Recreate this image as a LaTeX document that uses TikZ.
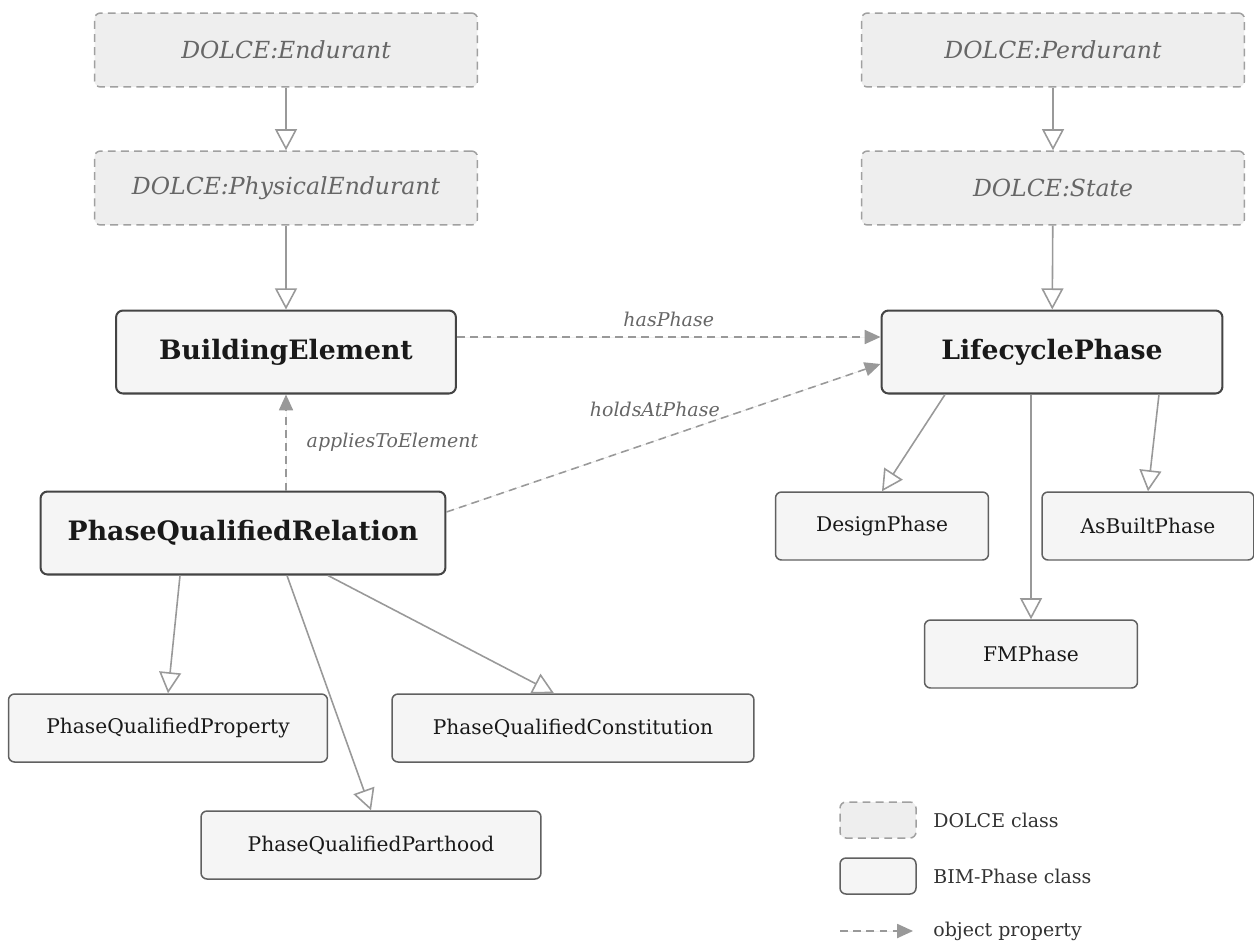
\documentclass[tikz,border=0pt]{standalone}
\usepackage{fontspec}
\setmainfont{DejaVu Serif}
\usepackage{tikz}
\usetikzlibrary{arrows.meta, positioning, calc}
\definecolor{dolcefill}{HTML}{EEEEEE}
\definecolor{dolceline}{HTML}{A0A0A0}
\definecolor{dolcetext}{HTML}{666666}
\definecolor{bimfill}{HTML}{F5F5F5}
\definecolor{bimline}{HTML}{444444}
\definecolor{edgegray}{HTML}{999999}
\tikzset{
  dolce/.style={rectangle, rounded corners=0.12cm, minimum width=7.66cm,
    minimum height=1.48cm, draw=dolceline, fill=dolcefill, dashed,
    dash pattern=on 4.5pt off 3pt, line width=0.85pt, text=dolcetext,
    font=\fontsize{13.4}{15}\selectfont\itshape},
  bimmain/.style={rectangle, rounded corners=0.14cm, minimum height=1.66cm,
    draw=bimline, fill=bimfill, line width=1.15pt, text=black!90,
    font=\fontsize{15.2}{17}\selectfont\bfseries},
  bimsub/.style={rectangle, rounded corners=0.12cm, minimum width=4.26cm,
    minimum height=1.36cm, draw=bimline!85, fill=bimfill, line width=0.85pt,
    text=black!90, font=\fontsize{11.5}{13}\selectfont},
  gen/.style={-{Triangle[open, length=12pt, width=12.5pt]}, draw=edgegray,
    line width=0.9pt},
  objprop/.style={-{Triangle[length=9pt, width=8pt]}, draw=edgegray,
    fill=edgegray, line width=0.9pt, dash pattern=on 4.5pt off 3pt},
  proplabel/.style={text=dolcetext, font=\fontsize{10.8}{12}\selectfont\itshape},
  legendtext/.style={anchor=west, inner sep=0pt, text=black!80,
    font=\fontsize{10.8}{12}\selectfont}
}
\begin{document}
\begin{tikzpicture}[x=0.02cm, y=-0.02cm]
\useasboundingbox (0,0) rectangle (1254,943);
% DOLCE upper level
\node (end)  [dolce] at (286,50)   {DOLCE:Endurant};
\node (pend) [dolce] at (286,188)  {DOLCE:PhysicalEndurant};
\node (perd) [dolce] at (1053,50)  {DOLCE:Perdurant};
\node (st)   [dolce] at (1053,188) {DOLCE:State};
% BIM-Phase core
\node (be)  [bimmain, minimum width=6.8cm]  at (286,352)  {BuildingElement};
\node (lp)  [bimmain, minimum width=6.82cm] at (1052,352) {LifecyclePhase};
\node (pqr) [bimmain, minimum width=8.1cm]  at (243,533)  {PhaseQualifiedRelation};
% phases
\node (dp) [bimsub]                       at (882,526)  {DesignPhase};
\node (ab) [bimsub, minimum width=4.24cm] at (1148,526) {AsBuiltPhase};
\node (fm) [bimsub]                       at (1031,654) {FMPhase};
% relation kinds
\node (pqp) [bimsub, minimum width=6.38cm] at (168,728) {PhaseQualifiedProperty};
\node (pqc) [bimsub, minimum width=7.24cm] at (573,728) {PhaseQualifiedConstitution};
\node (pqh) [bimsub, minimum width=6.8cm]  at (371,845) {PhaseQualifiedParthood};

\draw [gen] (end)  -- (pend);
\draw [gen] (pend) -- (be);
\draw [gen] (perd) -- (st);
\draw [gen] (st)   -- (lp);
\draw [gen] ([xshift=-2.14cm]lp.south) -- (dp.north);
\draw [gen] (fm.north |- lp.south) -- (fm.north);
\draw [gen] ([xshift=2.14cm]lp.south) -- (ab.north);
\draw [gen] ([xshift=-1.26cm]pqr.south) -- (pqp.north);
\draw [gen] ([xshift=0.88cm]pqr.south) -- (pqh.north);
\draw [gen] ([xshift=1.7cm]pqr.south) -- ([xshift=-0.38cm]pqc.north);

\draw [objprop] ([yshift=0.3cm]be.east) -- node[proplabel, above=2pt]{hasPhase} ([yshift=0.3cm]lp.west);
\draw [objprop] (be.south |- pqr.north) -- node[proplabel, right=8pt]{appliesToElement} (be.south);
\draw [objprop] ([yshift=0.42cm]pqr.east) -- node[proplabel, pos=0.48, above=10pt]{holdsAtPhase} ([yshift=-0.24cm]lp.west);

% legend
\node (lgd) [dolce, minimum width=1.52cm, minimum height=0.72cm] at (878,820) {};
\node (lgb) [bimsub, minimum width=1.52cm, minimum height=0.72cm] at (878,876) {};
\coordinate (lga) at (840,931);
\coordinate (lgz) at (913,931);
\draw [objprop] (lga) -- (lgz);
\node (lgdt) [legendtext] at (933,820) {DOLCE class};
\node (lgbt) [legendtext] at (933,876) {BIM-Phase class};
\node (lgat) [legendtext] at (933,931) {object property};
\end{tikzpicture}
\end{document}
